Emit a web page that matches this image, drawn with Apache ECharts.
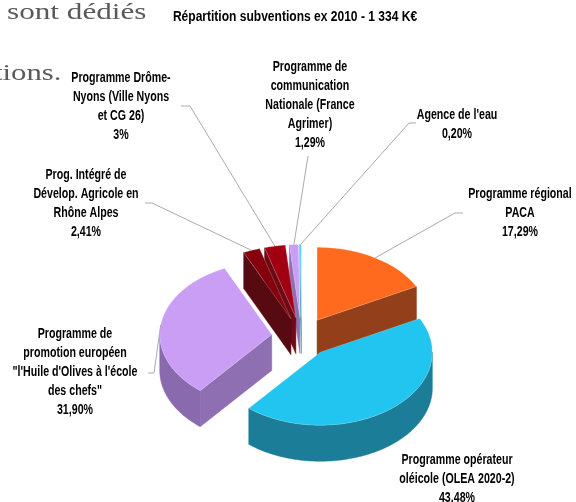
<!DOCTYPE html>
<html>
<head>
<meta charset="utf-8">
<script src="https://cdn.jsdelivr.net/npm/echarts@6/dist/echarts.min.js"></script>
<style>
  html, body { margin: 0; padding: 0; background: #fff; }
  #chart { width: 576px; height: 502px; }
</style>
</head>
<body>
<div id="chart"></div>
<script>
// slices, clockwise from 12 o'clock
const categories = [
  "Programme régional\nPACA",
  "Programme opérateur\noléicole (OLEA 2020-2)",
  "Programme de\npromotion européen\n\"l'Huile d'Olives à l'école\ndes chefs\"",
  "Prog. Intégré de\nDévelop. Agricole en\nRhône Alpes",
  "Programme Drôme-\nNyons (Ville Nyons\net CG 26)",
  "Programme de\ncommunication\nNationale (France\nAgrimer)",
  "Agence de l'eau",
];
const values = [17.29, 43.48, 31.9, 2.41, 3.0, 1.29, 0.2];
const percentLabels = ["17,29%", "43.48%", "31,90%", "2,41%", "3%", "1,29%", "0,20%"];

const topColors = ["#ff6a1f", "#22c4f0", "#cb9ef6", "#85000c", "#a10012", "#cb9ef6", "#35d2f2"];
const sideColors = ["#8f3810", "#1b7d97", "#8a6aae", "#52000a", "#66000c", "#8a6aae", "#1f8ea6"];

const PIE = { cx: 301.5, cy: 337, rx: 112, ry: 73, depth: 36, explode: 30 };

// label block: centre x, y of first line, leader start (+ optional elbow)
const labelLayout = [
  { x: 520, y: 194, lead: [[463, 213], [455, 213]] },
  { x: 457, y: 460, lead: null },
  { x: 75, y: 334, lead: [[148, 373], [154, 373]] },
  { x: 86, y: 175, lead: [[145, 203], [152, 203]] },
  { x: 121, y: 78, lead: [[181, 106], [190, 106]] },
  { x: 310, y: 67, lead: [[308, 156]] },
  { x: 457, y: 115, lead: [[416, 123], [409, 123]] },
];

// no narrow face installed: squeeze Liberation Sans instead
const LABEL_FONT = "'Liberation Sans', Arial, sans-serif";
const NARROW = 0.76;
const LINE_H = 19;

const total = values.reduce((a, b) => a + b, 0);
const slices = [];
let acc = 0;
values.forEach((v) => {
  const a0 = (acc / total) * Math.PI * 2;
  acc += v;
  const a1 = (acc / total) * Math.PI * 2;
  const mid = (a0 + a1) / 2;
  const k = PIE.ry / PIE.rx;
  slices.push({
    a0,
    a1,
    mid,
    c: [
      PIE.cx + PIE.explode * Math.sin(mid),
      PIE.cy - PIE.explode * Math.cos(mid) * k,
    ],
  });
});

// back-to-front drawing rank
const order = slices
  .map((s, i) => ({ i, key: -Math.cos(s.mid) }))
  .sort((a, b) => a.key - b.key);
const rank = [];
order.forEach((o, r) => { rank[o.i] = r; });

function pt(c, ang, dy) {
  return [c[0] + PIE.rx * Math.sin(ang), c[1] - PIE.ry * Math.cos(ang) + (dy || 0)];
}

function arc(c, a0, a1, dy) {
  const n = Math.max(2, Math.ceil(Math.abs(a1 - a0) / (Math.PI / 120)));
  const pts = [];
  for (let j = 0; j <= n; j++) {
    pts.push(pt(c, a0 + ((a1 - a0) * j) / n, dy));
  }
  return pts;
}

function renderSlice(params, api) {
  const i = params.dataIndex;
  const s = slices[i];
  const c = s.c;
  const h = PIE.depth;
  const base = rank[i] * 10;
  const children = [];
  const radialColor = echarts.color.lift(sideColors[i], 0.04);

  // radial faces that look towards the viewer
  [[s.a0, s.a0 - Math.PI / 2], [s.a1, s.a1 + Math.PI / 2]].forEach(([a, normal]) => {
    if (Math.cos(normal) < 0) {
      const p = pt(c, a);
      children.push({
        type: "polygon",
        z2: base + 1,
        shape: { points: [c, p, [p[0], p[1] + h], [c[0], c[1] + h]] },
        style: { fill: radialColor, stroke: radialColor, lineWidth: 0.5 },
      });
    }
  });

  // outer wall, front half only
  const lo = Math.max(s.a0, Math.PI / 2);
  const hi = Math.min(s.a1, Math.PI * 1.5);
  if (hi > lo) {
    const top = arc(c, lo, hi, 0);
    const bottom = arc(c, hi, lo, h);
    children.push({
      type: "polygon",
      z2: base + 2,
      shape: { points: top.concat(bottom) },
      style: { fill: sideColors[i], stroke: sideColors[i], lineWidth: 0.5 },
    });
  }

  // top face
  children.push({
    type: "polygon",
    z2: base + 3,
    shape: { points: [c].concat(arc(c, s.a0, s.a1, 0)) },
    style: {
      fill: topColors[i],
      stroke: "rgba(255,255,255,0.35)",
      lineWidth: 0.6,
    },
  });

  // label + leader
  const lay = labelLayout[i];
  children.push({
    type: "text",
    z2: 1000,
    x: lay.x,
    y: lay.y - LINE_H / 2,
    scaleX: NARROW,
    style: {
      text: categories[i] + "\n" + percentLabels[i],
      x: 0,
      y: 0,
      align: "center",
      verticalAlign: "top",
      fontFamily: LABEL_FONT,
      fontWeight: "bold",
      fontSize: 14,
      lineHeight: LINE_H,
      fill: "#000",
    },
  });
  if (lay.lead) {
    const end = pt(c, s.mid);
    children.push({
      type: "polyline",
      z2: 999,
      shape: { points: lay.lead.concat([end]) },
      style: { stroke: "#ababab", lineWidth: 1, fill: null },
    });
  }

  return { type: "group", children };
}

const chart = echarts.init(document.getElementById("chart"), null, { renderer: "canvas" });

chart.setOption({
  backgroundColor: "#fff",
  animation: false,
  graphic: [
    {
      type: "text",
      x: 295,
      y: 10,
      scaleX: 0.86,
      style: {
        text: "Répartition subventions ex 2010 - 1 334 K€",
        align: "center",
        fontFamily: LABEL_FONT,
        fontWeight: "bold",
        fontSize: 14,
        fill: "#000",
      },
    },
    {
      type: "text",
      x: 7,
      y: 1,
      scaleX: 1.3,
      style: {
        text: "sont dédiés",
        fontFamily: "'Liberation Serif', 'DejaVu Serif', serif",
        fontSize: 24,
        fill: "#5a5a5a",
      },
    },
    {
      type: "text",
      x: -6,
      y: 62,
      scaleX: 1.28,
      style: {
        text: "tions.",
        fontFamily: "'Liberation Serif', 'DejaVu Serif', serif",
        fontSize: 24,
        fill: "#5a5a5a",
      },
    },
  ],
  series: [
    {
      type: "custom",
      coordinateSystem: "none",
      renderItem: renderSlice,
      data: values.map((v) => [v]),
      silent: true,
    },
  ],
});
</script>
</body>
</html>
